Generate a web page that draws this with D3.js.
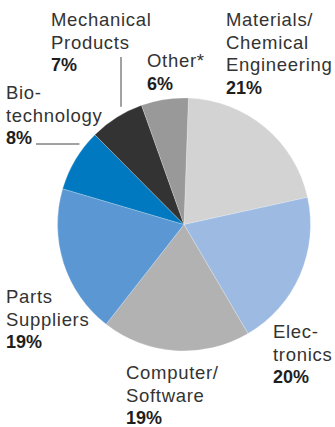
<!DOCTYPE html>
<html>
<head>
<meta charset="utf-8">
<script src="https://cdn.jsdelivr.net/npm/d3@7"></script>
<style>
  html, body { margin: 0; padding: 0; background: #fff; }
  svg { display: block; }
  .lbl { font-family: "Liberation Sans", Arial, sans-serif; font-size: 18.5px; fill: #333333; letter-spacing: 0.7px; }
  .pct { font-family: "Liberation Sans", Arial, sans-serif; font-size: 18px; font-weight: bold; fill: #1e1e1e; }
</style>
</head>
<body>
<svg id="chart" width="335" height="427"></svg>
<script>
// Share of companies by industry, clockwise from the top
const categories = [
  ["Materials/", "Chemical", "Engineering"],
  ["Elec-", "tronics"],
  ["Computer/", "Software"],
  ["Parts", "Suppliers"],
  ["Bio-", "technology"],
  ["Mechanical", "Products"],
  ["Other*"]
];
const values = [21, 20, 19, 19, 8, 7, 6];
const colors = ["#d3d3d3", "#9dbbe2", "#b2b2b2", "#5b97d3", "#0079c1", "#333333", "#999999"];

// Label placement: left x and first baseline for each category
const labelLayout = [
  { x: 226, y: 26 },
  { x: 273, y: 338 },
  { x: 126, y: 379 },
  { x: 6,   y: 303 },
  { x: 6,   y: 99 },
  { x: 51,  y: 26 },
  { x: 147, y: 67 }
];
const lineStep = 22.6;

const svg = d3.select("#chart");
const cx = 184, cy = 224.5, radius = 126.5;
const rotation = 2 * Math.PI / 180;

const pie = d3.pie().sort(null).value(d => d)
  .startAngle(rotation).endAngle(rotation + 2 * Math.PI);
const arc = d3.arc().innerRadius(0).outerRadius(radius);

const g = svg.append("g").attr("transform", `translate(${cx},${cy})`);
g.selectAll("path")
  .data(pie(values))
  .join("path")
  .attr("d", arc)
  .attr("fill", (d, i) => colors[i])
  .attr("stroke", "#ffffff")
  .attr("stroke-width", 0.5)
  .attr("stroke-opacity", 0.45);

// Category labels with bold percentage underneath
const labels = svg.selectAll("g.label")
  .data(categories)
  .join("g")
  .attr("class", "label")
  .attr("transform", (d, i) => `translate(${labelLayout[i].x},${labelLayout[i].y})`);

labels.each(function(lines, i) {
  const t = d3.select(this);
  lines.forEach((line, k) => {
    t.append("text").attr("class", "lbl").attr("y", k * lineStep).text(line);
  });
  t.append("text").attr("class", "pct").attr("y", lines.length * lineStep).text(values[i] + "%");
});

// Leader lines for the two small slices on the upper left
const gap = 8;
const mechX = 121;
const mechEdgeY = cy - Math.sqrt(radius * radius - (mechX - cx) ** 2);
svg.append("line")
  .attr("x1", mechX).attr("x2", mechX)
  .attr("y1", 57).attr("y2", mechEdgeY - gap)
  .attr("stroke", "#444").attr("stroke-width", 1);

const bioY = 144;
const bioEdgeX = cx - Math.sqrt(radius * radius - (bioY - cy) ** 2);
svg.append("line")
  .attr("x1", 36).attr("x2", bioEdgeX - gap + 1)
  .attr("y1", bioY).attr("y2", bioY)
  .attr("stroke", "#444").attr("stroke-width", 1);
</script>
</body>
</html>
